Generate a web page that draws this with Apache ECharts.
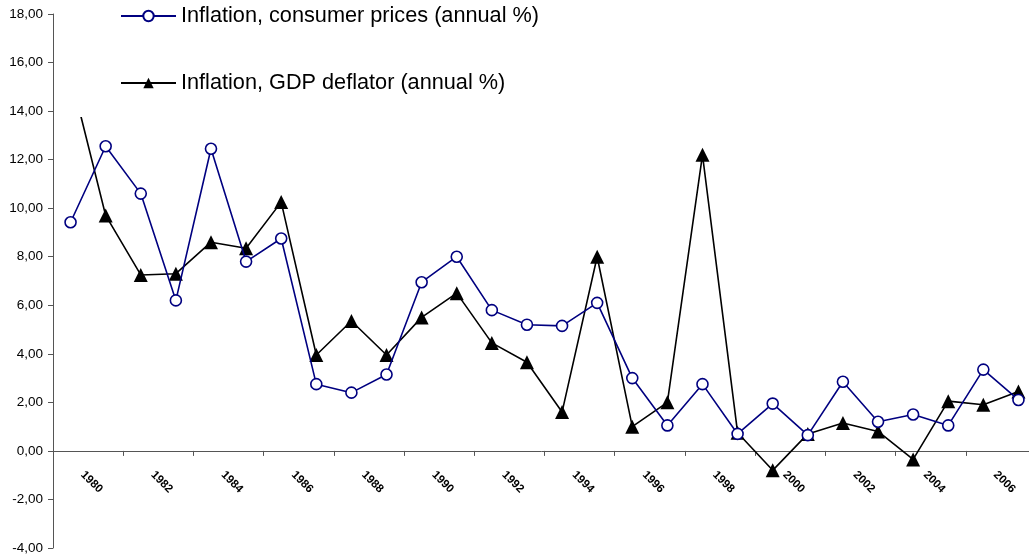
<!DOCTYPE html>
<html>
<head>
<meta charset="utf-8">
<script src="https://cdn.jsdelivr.net/npm/echarts@6/dist/echarts.min.js"></script>
<style>
html,body{margin:0;padding:0;background:#fff;}
#chart{width:1029px;height:558px;}
</style>
</head>
<body>
<div id="chart"></div>
<script>
const years = ['1980','1981','1982','1983','1984','1985','1986','1987','1988','1989','1990','1991','1992','1993','1994','1995','1996','1997','1998','1999','2000','2001','2002','2003','2004','2005','2006','2007'];
const cpi = [9.42,12.55,10.6,6.2,12.45,7.8,8.75,2.75,2.4,3.15,6.95,8.0,5.8,5.2,5.15,6.1,3.0,1.05,2.75,0.7,1.95,0.65,2.85,1.2,1.5,1.05,3.35,2.1];
const deflator = [15.5,9.7,7.25,7.3,8.6,8.35,10.25,3.95,5.35,3.95,5.5,6.5,4.45,3.65,1.6,8.0,1.0,2.0,12.2,0.75,-0.8,0.7,1.15,0.8,-0.35,2.05,1.9,2.45];
const seriesNames = ['Inflation, consumer prices (annual %)','Inflation, GDP deflator (annual %)'];
const yMin = -4, yMax = 18, yStep = 2;

const chart = echarts.init(document.getElementById('chart'), null, {renderer:'canvas'});
chart.setOption({
  animation: false,
  backgroundColor: '#ffffff',
  textStyle: {fontFamily: 'Arial, "Liberation Sans", sans-serif'},
  legend: {
    orient: 'vertical',
    left: 60,
    top: 0,
    padding: [5, 10, 23, 60],
    backgroundColor: '#ffffff',
    itemWidth: 55,
    itemHeight: 13,
    itemGap: 45,
    itemTextGap: 8,
    textStyle: {fontSize: 21.7, color: '#000', fontFamily: 'Arial, "Liberation Sans", sans-serif'},
    data: seriesNames
  },
  grid: {left: 53, top: 14, width: 983, height: 534, containLabel: false, outerBoundsMode: 'none'},
  xAxis: {
    type: 'category',
    data: years,
    boundaryGap: true,
    axisLine: {onZero: true, lineStyle: {color: '#555', width: 1}},
    axisTick: {show: true, interval: 1, length: 5, lineStyle: {color: '#555'}},
    axisLabel: {
      interval: 1, rotate: -45, margin: -87, fontSize: 11.5, fontWeight: 'bold', color: '#000',
      padding: [0, 0, 0, 17]
    },
    splitLine: {show: false}
  },
  yAxis: {
    type: 'value',
    min: yMin, max: yMax, interval: yStep,
    axisLine: {show: true, lineStyle: {color: '#555', width: 1}},
    axisTick: {show: true, length: 5, lineStyle: {color: '#555'}},
    axisLabel: {fontSize: 13.5, color: '#000', margin: 10, formatter: v => v.toFixed(2).replace('.', ',')},
    splitLine: {show: false}
  },
  series: [
    {
      name: seriesNames[0], type: 'line', data: cpi,
      symbol: 'circle', symbolSize: 11, showSymbol: true,
      lineStyle: {color: '#000080', width: 1.6},
      itemStyle: {color: '#ffffff', borderColor: '#000080', borderWidth: 1.6},
      z: 3
    },
    {
      name: seriesNames[1], type: 'line', data: deflator,
      symbol: 'triangle', symbolSize: 14, showSymbol: true,
      lineStyle: {color: '#000000', width: 1.6},
      itemStyle: {color: '#000000'},
      z: 2
    }
  ]
});
</script>
</body>
</html>
